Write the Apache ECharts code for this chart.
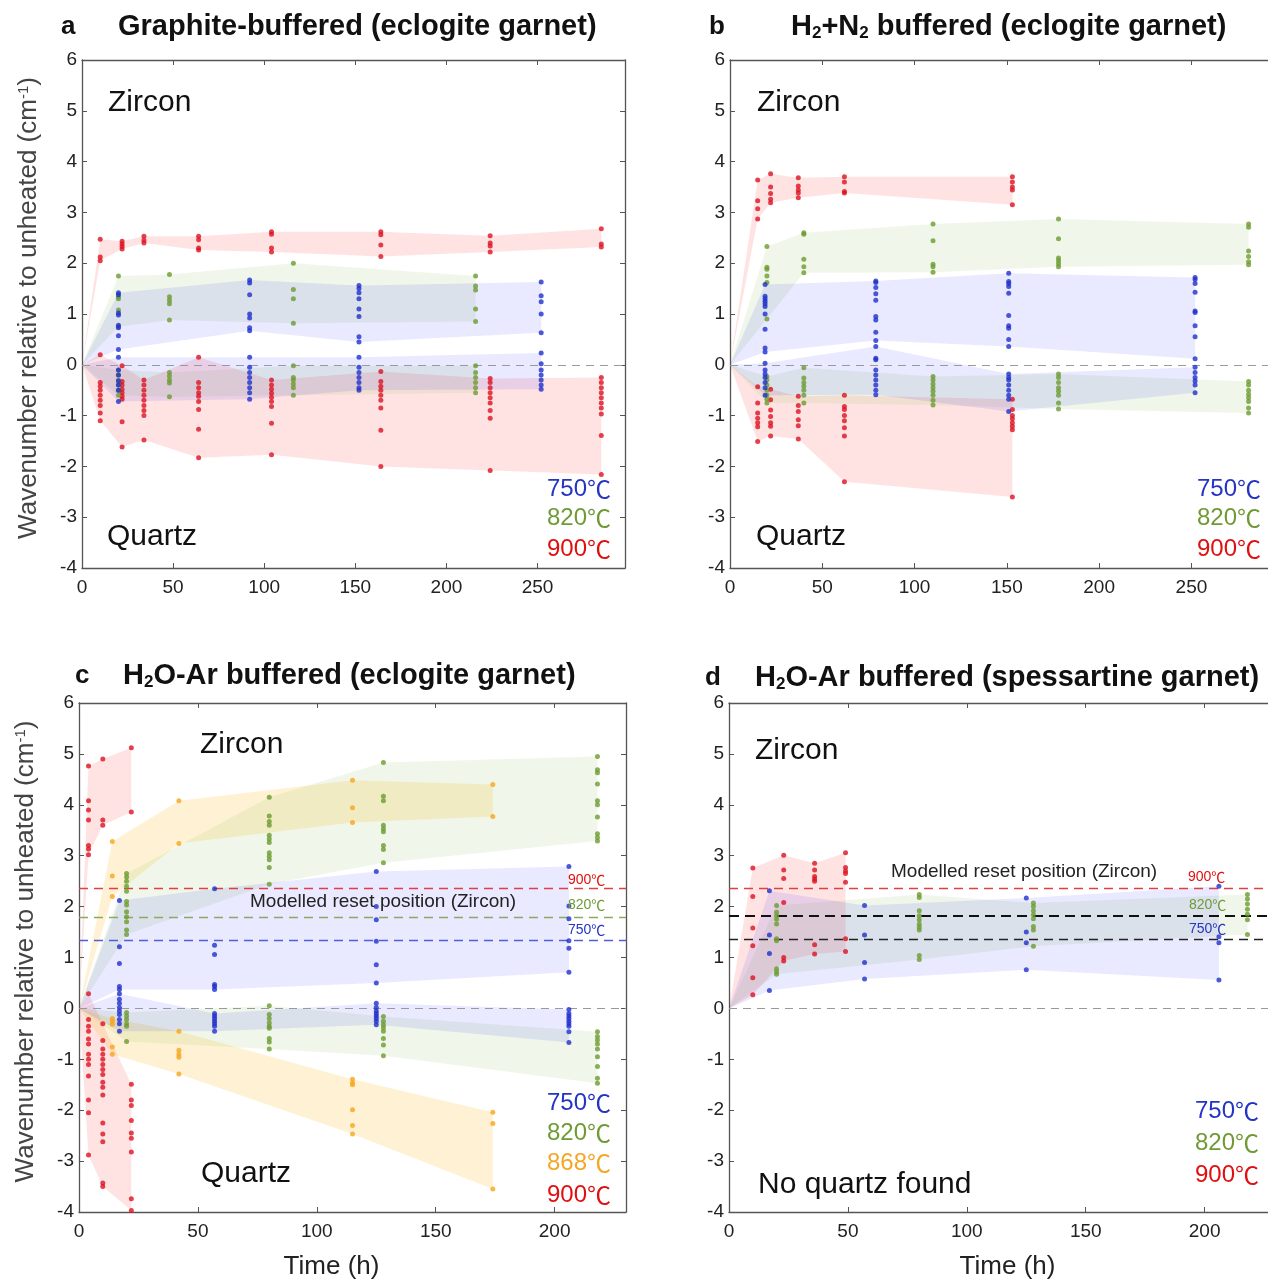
<!DOCTYPE html>
<html>
<head>
<meta charset="utf-8">
<title>Wavenumber relative to unheated</title>
<script src="https://cdn.jsdelivr.net/npm/echarts@6/dist/echarts.min.js"></script>
<style>
html, body { margin: 0; padding: 0; background: #fff; }
#chart { width: 1268px; height: 1283px; }
</style>
</head>
<body>
<div id="chart"></div>
<script>
// ---- panel a : graphite-buffered (eclogite garnet) ----
var aT750 = [20, 92, 152, 252]
var aZr750 = [[1.42, 1.38, 1.02, 0.98, 0.78, 0.73, 0.57, 0.3], [1.67, 1.61, 1.38, 1.0, 0.92, 0.73, 0.67], [1.56, 1.5, 1.42, 1.3, 1.1, 0.95, 0.55, 0.45], [1.63, 1.36, 1.24, 1.0, 0.63]]
var aQz750 = [[0.15, -0.1, -0.2, -0.32, -0.4, -0.5, -0.72], [0.15, -0.05, -0.15, -0.25, -0.35, -0.45, -0.55, -0.68], [0.15, -0.05, -0.15, -0.25, -0.35, -0.45, -0.5], [0.23, 0.02, -0.1, -0.2, -0.3, -0.4, -0.48]]
var aT820 = [20, 48, 116, 216]
var aZr820 = [[1.75, 1.34, 1.3, 1.08, 0.75], [1.78, 1.34, 1.27, 1.2, 0.88], [2.0, 1.48, 1.3, 0.82], [1.75, 1.55, 1.47, 1.1, 0.85]]
var aQz820 = [[-0.1, -0.2, -0.3, -0.4, -0.5, -0.6], [-0.15, -0.22, -0.3, -0.36, -0.63], [-0.02, -0.25, -0.3, -0.38, -0.45, -0.6], [-0.02, -0.15, -0.25, -0.35, -0.45, -0.55]]
var aT900 = [10, 22, 34, 64, 104, 164, 224, 285]
var aZr900 = [[2.47, 2.12, 2.05], [2.43, 2.38, 2.33, 2.28], [2.53, 2.45, 2.4], [2.53, 2.46, 2.3, 2.26], [2.62, 2.57, 2.3, 2.22], [2.62, 2.56, 2.36, 2.13], [2.54, 2.4, 2.34, 2.22], [2.68, 2.38, 2.32]]
var aQz900 = [
  [0.2, -0.35, -0.42, -0.5, -0.6, -0.7, -0.8, -0.95, -1.1],
  [-0.02, -0.33, -0.4, -0.48, -0.55, -0.62, -0.68, -1.12, -1.62],
  [-0.3, -0.4, -0.5, -0.6, -0.7, -0.8, -0.9, -1.0, -1.48],
  [0.15, -0.35, -0.45, -0.55, -0.62, -0.72, -0.88, -1.27, -1.83],
  [-0.3, -0.4, -0.48, -0.56, -0.64, -0.72, -0.82, -1.15, -1.77],
  [-0.13, -0.33, -0.42, -0.5, -0.6, -0.7, -0.85, -1.29, -2.0],
  [-0.27, -0.35, -0.45, -0.55, -0.65, -0.75, -0.9, -1.05, -2.08],
  [-0.25, -0.35, -0.45, -0.55, -0.65, -0.75, -0.85, -0.97, -1.39, -2.16]
]

// ---- panel b : H2+N2 buffered (eclogite garnet) ----
var bT750 = [19, 79, 151, 252]
var bZr750 = [[1.58, 1.35, 1.3, 1.25, 1.2, 1.15, 1.0, 0.7, 0.33, 0.25], [1.65, 1.62, 1.52, 1.4, 1.27, 0.95, 0.88, 0.64, 0.48], [1.8, 1.64, 1.6, 1.54, 1.41, 0.97, 0.77, 0.72, 0.5, 0.36], [1.72, 1.68, 1.6, 1.43, 1.06, 1.03, 0.77, 0.55, 0.12]]
var bQz750 = [[0.03, -0.1, -0.18, -0.25, -0.35, -0.45, -0.6], [0.36, 0.13, 0.1, -0.1, -0.2, -0.3, -0.4, -0.5, -0.59], [-0.18, -0.25, -0.3, -0.4, -0.5, -0.6, -0.68, -0.92], [-0.05, -0.15, -0.25, -0.32, -0.4, -0.55]]
var bT820 = [20, 40, 110, 178, 281]
var bZr820 = [[2.33, 1.92, 1.88, 1.75, 1.62, 0.9], [2.6, 2.57, 2.08, 1.93, 1.81], [2.77, 2.44, 1.98, 1.93, 1.82], [2.87, 2.48, 2.1, 2.05, 1.99, 1.93], [2.77, 2.71, 2.24, 2.13, 2.03, 1.97]]
var bQz820 = [[-0.23, -0.3, -0.4, -0.5, -0.6, -0.68, -0.75], [-0.06, -0.26, -0.35, -0.42, -0.5, -0.6, -0.75], [-0.23, -0.3, -0.38, -0.45, -0.52, -0.6, -0.7, -0.79], [-0.18, -0.25, -0.35, -0.45, -0.52, -0.6, -0.75, -0.87], [-0.33, -0.4, -0.5, -0.58, -0.65, -0.72, -0.85, -0.95]]
var bT900 = [15, 22, 37, 62, 153]
var bZr900 = [[3.64, 3.23, 3.07, 2.87], [3.76, 3.5, 3.37, 3.26, 3.19], [3.68, 3.52, 3.44, 3.38, 3.29], [3.7, 3.6, 3.41, 3.38], [3.7, 3.6, 3.5, 3.44, 3.15]]
var bQz900 = [[-0.43, -0.75, -0.95, -1.05, -1.14, -1.22, -1.51], [-0.48, -0.69, -0.89, -1.02, -1.14, -1.21, -1.4], [-0.62, -0.8, -0.92, -1.08, -1.2, -1.46], [-0.6, -0.82, -0.88, -1.0, -1.1, -1.24, -1.4, -2.3], [-0.68, -0.88, -1.0, -1.06, -1.14, -1.21, -1.28, -2.6]]

// ---- panel c : H2O-Ar buffered (eclogite garnet) ----
var cT750 = [17, 57, 125, 206]
var cZr750 = [[2.12, 1.21, 0.88, 0.43, 0.37], [2.35, 1.24, 1.06, 0.47, 0.43, 0.37], [2.69, 2.0, 1.74, 1.32, 0.86, 0.5], [2.79, 2.01, 1.76, 1.33, 1.18, 0.71]]
var cQz750 = [[0.29, 0.18, 0.1, 0.02, -0.05, -0.12, -0.22, -0.3, -0.45], [-0.1, -0.15, -0.2, -0.25, -0.3, -0.35, -0.45], [0.1, 0.02, -0.05, -0.1, -0.15, -0.2, -0.25, -0.32], [-0.02, -0.1, -0.15, -0.2, -0.25, -0.3, -0.35, -0.46, -0.67]]
var cT820 = [20, 80, 128, 218]
var cZr820 = [[2.65, 2.58, 2.5, 2.4, 2.3, 2.1, 2.03, 1.9, 1.8, 1.7, 1.54, 1.45], [4.15, 3.78, 3.67, 3.6, 3.4, 3.33, 3.26, 3.06, 2.99, 2.92, 2.77, 2.44], [4.83, 4.17, 4.08, 3.6, 3.53, 3.47, 3.2, 3.12, 2.86], [4.95, 4.69, 4.63, 4.41, 4.08, 4.0, 3.76, 3.43, 3.36, 3.29]]
var cQz820 = [[-0.08, -0.15, -0.22, -0.3, -0.35, -0.65], [0.05, -0.12, -0.2, -0.28, -0.35, -0.39, -0.59, -0.66, -0.8], [-0.16, -0.25, -0.32, -0.38, -0.45, -0.59, -0.72, -0.93], [-0.46, -0.55, -0.62, -0.7, -0.8, -0.95, -1.14, -1.37, -1.47]]
var cT868 = [14, 42, 115, 174]
var cZr868 = [[3.28, 2.6, 2.2], [4.08, 3.24], [4.48, 3.94, 3.65], [4.4, 3.77]]
var cQz868 = [[-0.2, -0.25, -0.31, -0.76, -0.9], [-0.45, -0.82, -0.9, -0.96, -1.29], [-1.39, -1.46, -1.5, -1.99, -2.3, -2.47], [-2.04, -2.26, -3.55]]
var cT900 = [4, 10, 22]
var cZr900 = [[4.76, 4.08, 3.9, 3.7, 3.2, 3.13, 3.02], [4.9, 3.7, 3.6], [5.12, 3.86]]
var cQz900 = [
  [0.29, -0.22, -0.35, -0.45, -0.6, -0.7, -0.9, -1.0, -1.1, -1.33, -1.8, -2.05, -2.88],
  [-0.3, -0.63, -0.8, -0.9, -1.0, -1.1, -1.2, -1.3, -1.45, -1.55, -1.7, -2.25, -2.47, -2.62, -3.43, -3.5],
  [-1.49, -1.8, -1.91, -2.2, -2.45, -2.55, -2.82, -3.74, -3.97]
]
var cReset = [2.36, 1.8, 1.33]

// ---- panel d : H2O-Ar buffered (spessartine garnet) ----
var dT750 = [17, 57, 125, 206]
var dZr750 = [[2.31, 1.44, 1.08, 0.35], [2.02, 1.44, 0.9, 0.58], [2.17, 1.5, 1.29, 0.76], [2.4, 1.41, 1.29, 0.56]]
var dT820 = [20, 80, 128, 218]
var dZr820 = [[2.02, 1.89, 1.82, 1.75, 1.66, 1.37, 1.33, 0.78, 0.72, 0.67], [2.24, 2.18, 1.92, 1.82, 1.74, 1.66, 1.6, 1.54, 1.04, 0.96], [2.07, 2.0, 1.92, 1.84, 1.76, 1.61, 1.54, 1.22], [2.24, 2.15, 2.05, 1.95, 1.85, 1.74, 1.45]]
var dT900 = [10, 23, 36, 49]
var dZr900 = [[2.76, 2.2, 1.58, 1.23, 0.6, 0.27], [3.01, 2.72, 2.55, 2.08, 1.0, 0.93], [2.85, 2.72, 2.59, 2.54, 2.5, 1.25, 1.07], [3.06, 2.77, 2.7, 2.65, 2.48, 1.37, 1.12]]
var dReset = [2.36, 1.82, 1.35]

var yTicks = [-4, -3, -2, -1, 0, 1, 2, 3, 4, 5, 6]

var FONT = '"Liberation Sans", Arial, sans-serif'
var CJK = '"Noto Sans CJK SC", sans-serif'
var COL = {
  750: { dot: '#1f30cc', band: 'rgba(0,0,255,0.085)', text: '#2434c4' },
  820: { dot: '#6c9b2f', band: 'rgba(120,180,60,0.11)', text: '#6f9a35' },
  868: { dot: '#f7a51c', band: 'rgba(255,190,40,0.2)', text: '#f5a623' },
  900: { dot: '#dd1020', band: 'rgba(255,0,0,0.11)', text: '#e01010' }
}

var panels = [
  { grid: { left: 82, top: 60, width: 543, height: 508 }, xMax: 298,
    sets: [[900, aT900, aZr900, aQz900], [820, aT820, aZr820, aQz820], [750, aT750, aZr750, aQz750]] },
  { grid: { left: 730, top: 60, width: 550, height: 508 }, xMax: 298,
    sets: [[900, bT900, bZr900, bQz900], [820, bT820, bZr820, bQz820], [750, bT750, bZr750, bQz750]] },
  { grid: { left: 79, top: 703, width: 547, height: 509 }, xMax: 230,
    sets: [[900, cT900, cZr900, cQz900], [868, cT868, cZr868, cQz868], [820, cT820, cZr820, cQz820], [750, cT750, cZr750, cQz750]] },
  { grid: { left: 729, top: 703, width: 547, height: 509 }, xMax: 230,
    sets: [[900, dT900, dZr900, null], [820, dT820, dZr820, null], [750, dT750, dZr750, null]] }
]

// flatten groups into [t, v] points
function points(times, groups) {
  var out = []
  times.forEach(function(t, i) {
    groups[i].forEach(function(v) { out.push([t, v]) })
  })
  return out
}

// min / max of each group, starting from the origin
function envelope(times, groups) {
  var rows = [[0, 0, 0]]
  times.forEach(function(t, i) {
    rows.push([t, Math.min.apply(null, groups[i]), Math.max.apply(null, groups[i])])
  })
  return rows
}

function bandSeries(g, rows, fill) {
  return {
    type: 'custom',
    xAxisIndex: 2 * g,
    yAxisIndex: 2 * g,
    data: rows,
    encode: { x: 0, y: [1, 2] },
    silent: true,
    z: 1,
    renderItem: function(params, api) {
      if (params.dataIndex !== 0) return null
      var top = rows.map(function(r) { return api.coord([r[0], r[2]]) })
      var bot = rows.map(function(r) { return api.coord([r[0], r[1]]) }).reverse()
      return { type: 'polygon', shape: { points: top.concat(bot) }, style: { fill: fill } }
    }
  }
}

var dashGray = { color: '#9a9a9a', type: [8, 6], width: 1.2 }
var markLines = [
  [{ yAxis: 0 }],
  [{ yAxis: 0 }],
  [{ yAxis: 0 },
   { yAxis: cReset[0], lineStyle: { color: '#e04040', type: [9, 6], width: 1.3 } },
   { yAxis: cReset[1], lineStyle: { color: '#8aaa60', type: [9, 6], width: 1.3 } },
   { yAxis: cReset[2], lineStyle: { color: '#5060d0', type: [9, 6], width: 1.3 } }],
  [{ yAxis: 0 },
   { yAxis: dReset[0], lineStyle: { color: '#e04040', type: [9, 6], width: 1.3 } },
   { yAxis: dReset[1], lineStyle: { color: '#111', type: [10, 6], width: 2 } },
   { yAxis: dReset[2], lineStyle: { color: '#222', type: [9, 6], width: 1.3 } }]
]

var grids = [], xAxes = [], yAxes = [], series = []
var axisLine = { show: true, onZero: false, lineStyle: { color: '#555', width: 1.3 } }
var axisTick = { show: true, inside: true, length: 5, lineStyle: { color: '#555' } }

panels.forEach(function(p, g) {
  p.grid.outerBoundsMode = 'none'
  grids.push(p.grid)
  xAxes.push({
    gridIndex: g, type: 'value', min: 0, max: p.xMax, interval: 50,
    axisLine: axisLine, axisTick: axisTick, splitLine: { show: false },
    axisLabel: { fontSize: 19, color: '#222', fontFamily: FONT, margin: 10,
      formatter: function(v) { return v % 50 === 0 ? v : '' } },
    name: g >= 2 ? 'Time (h)' : '', nameLocation: 'middle', nameGap: 42,
    nameTextStyle: { fontSize: 26, color: '#222', fontFamily: FONT,
      padding: g === 2 ? [0, 42, 0, 0] : [0, 0, 0, 10] }
  })
  xAxes.push({
    gridIndex: g, type: 'value', position: 'top', min: 0, max: p.xMax, interval: 50,
    axisLine: axisLine, axisTick: axisTick, axisLabel: { show: false }, splitLine: { show: false }
  })
  yAxes.push({
    gridIndex: g, type: 'value', min: yTicks[0], max: yTicks[yTicks.length - 1], interval: 1,
    axisLine: axisLine, axisTick: axisTick, splitLine: { show: false },
    axisLabel: { fontSize: 19, color: '#222', fontFamily: FONT, margin: 5 },
    name: (g === 0 || g === 2) ? 'Wavenumber relative to unheated (cm{sup|-1})' : '',
    nameLocation: 'middle', nameGap: 40,
    nameTextStyle: { fontSize: 26, color: '#444', fontFamily: FONT, padding: [0, 0, 0, 12],
      rich: { sup: { fontSize: 15, color: '#444', fontFamily: FONT, verticalAlign: 'top' } } }
  })
  yAxes.push({
    gridIndex: g, type: 'value', position: 'right', min: yTicks[0], max: yTicks[yTicks.length - 1], interval: 1,
    axisLine: axisLine, axisTick: axisTick, axisLabel: { show: false }, splitLine: { show: false }
  })

  // shaded envelopes
  p.sets.forEach(function(s) {
    series.push(bandSeries(g, envelope(s[1], s[2]), COL[s[0]].band))
    if (s[3]) series.push(bandSeries(g, envelope(s[1], s[3]), COL[s[0]].band))
  })
  // measured points
  p.sets.forEach(function(s, k) {
    var data = points(s[1], s[2])
    if (s[3]) data = data.concat(points(s[1], s[3]))
    var sr = {
      type: 'scatter', xAxisIndex: 2 * g, yAxisIndex: 2 * g, data: data,
      symbolSize: 5, itemStyle: { color: COL[s[0]].dot }, silent: true, z: 3
    }
    if (k === 0) {
      sr.markLine = { silent: true, symbol: 'none', lineStyle: dashGray, label: { show: false }, data: markLines[g], z: 2 }
    }
    series.push(sr)
  })
})

// text labels
function txt(x, y, text, size, color, align, bold) {
  return { type: 'text', x: x, y: y, silent: true, z: 10,
    style: { text: text, font: (bold ? 'bold ' : '') + size + 'px ' + FONT, fill: color,
      textAlign: align || 'left', textVerticalAlign: 'middle' } }
}
// temperature label: digits in Liberation Sans, ℃ from the CJK font
function tempTxt(x, y, temp, size, align) {
  var c = COL[temp].text
  return { type: 'text', x: x, y: y, silent: true, z: 10,
    style: { text: '{n|' + temp + '}{c|℃}', fill: c, textAlign: align || 'left', textVerticalAlign: 'middle',
      rich: {
        n: { font: size + 'px ' + FONT, fill: c, color: c },
        c: { font: size + 'px ' + CJK, fill: c, color: c }
      } } }
}
function richTitle(x, y, text) {
  return { type: 'text', x: x, y: y, silent: true, z: 10,
    style: { text: text, textAlign: 'left', textVerticalAlign: 'middle', fill: '#111',
      rich: {
        b: { font: 'bold 29px ' + FONT, fill: '#111', color: '#111' },
        s: { font: 'bold 17px ' + FONT, fill: '#111', color: '#111', verticalAlign: 'bottom' }
      } } }
}

var graphics = [
  txt(61, 27, 'a', 26, '#111', 'left', true),
  richTitle(118, 27, '{b|Graphite-buffered (eclogite garnet)}'),
  txt(709, 27, 'b', 26, '#111', 'left', true),
  richTitle(791, 27, '{b|H}{s|2}{b|+N}{s|2}{b| buffered (eclogite garnet)}'),
  txt(75, 676, 'c', 26, '#111', 'left', true),
  richTitle(123, 676, '{b|H}{s|2}{b|O-Ar buffered (eclogite garnet)}'),
  txt(705, 678, 'd', 26, '#111', 'left', true),
  richTitle(755, 678, '{b|H}{s|2}{b|O-Ar buffered (spessartine garnet)}'),

  txt(108, 103, 'Zircon', 30, '#111'),
  txt(107, 537, 'Quartz', 30, '#111'),
  txt(757, 103, 'Zircon', 30, '#111'),
  txt(756, 537, 'Quartz', 30, '#111'),
  txt(200, 745, 'Zircon', 30, '#111'),
  txt(201, 1174, 'Quartz', 30, '#111'),
  txt(755, 751, 'Zircon', 30, '#111'),
  txt(758, 1185, 'No quartz found', 30, '#111'),

  tempTxt(611, 489, 750, 24, 'right'),
  tempTxt(611, 518, 820, 24, 'right'),
  tempTxt(611, 549, 900, 24, 'right'),
  tempTxt(1261, 489, 750, 24, 'right'),
  tempTxt(1261, 518, 820, 24, 'right'),
  tempTxt(1261, 549, 900, 24, 'right'),
  tempTxt(611, 1103, 750, 24, 'right'),
  tempTxt(611, 1133, 820, 24, 'right'),
  tempTxt(611, 1163, 868, 24, 'right'),
  tempTxt(611, 1195, 900, 24, 'right'),
  tempTxt(1259, 1111, 750, 24, 'right'),
  tempTxt(1259, 1143, 820, 24, 'right'),
  tempTxt(1259, 1175, 900, 24, 'right'),

  txt(250, 902, 'Modelled reset position (Zircon)', 19, '#222'),
  tempTxt(568, 880, 900, 14),
  tempTxt(568, 905, 820, 14),
  tempTxt(568, 930, 750, 14),
  txt(891, 872, 'Modelled reset position (Zircon)', 19, '#222'),
  tempTxt(1188, 877, 900, 14),
  tempTxt(1189, 905, 820, 14),
  tempTxt(1189, 929, 750, 14)
]

var chart = echarts.init(document.getElementById('chart'))
chart.setOption({
  animation: false,
  backgroundColor: '#fff',
  grid: grids,
  xAxis: xAxes,
  yAxis: yAxes,
  series: series,
  graphic: graphics
})
</script>
</body>
</html>
